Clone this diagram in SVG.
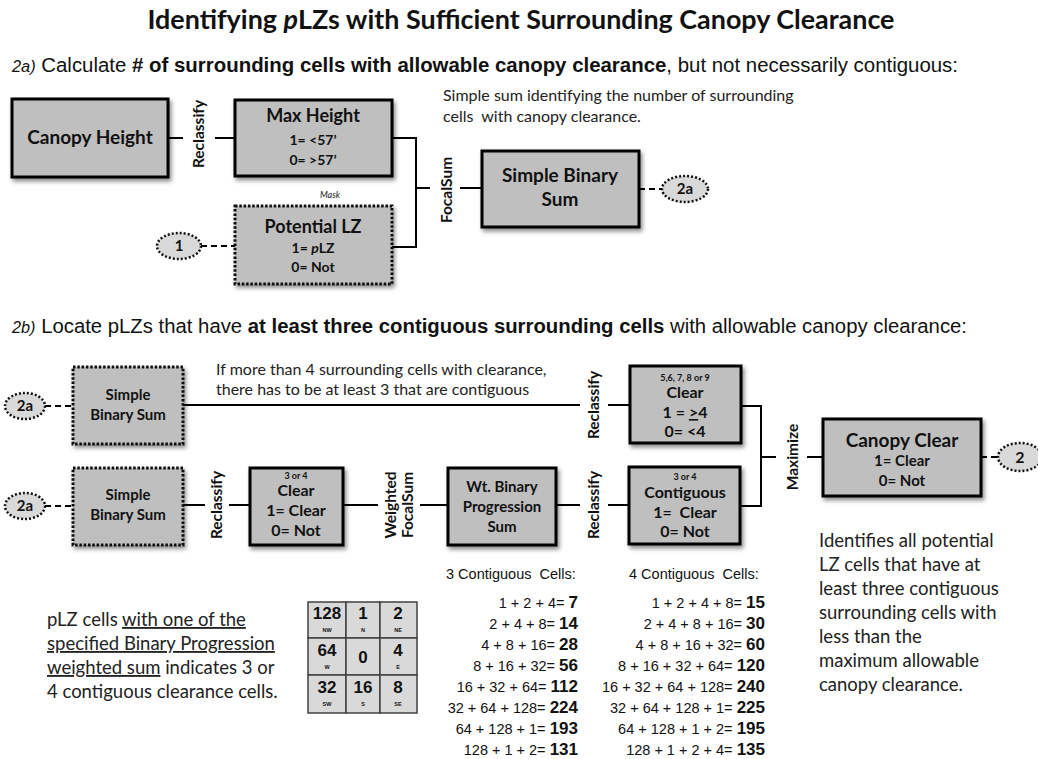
<svg xmlns="http://www.w3.org/2000/svg" width="1038" height="759" viewBox="0 0 1038 759">
<defs>
<filter id="sh" x="-10%" y="-10%" width="130%" height="140%">
<feDropShadow dx="2" dy="3" stdDeviation="2" flood-color="#000" flood-opacity="0.45"/>
</filter>
<style>
.box{fill:#bfbfbf;stroke:#000;stroke-width:3;filter:url(#sh)}
.dbox{fill:#bfbfbf;stroke:#111;stroke-width:3;stroke-dasharray:2.5 1.8;filter:url(#sh)}
.ell{fill:#d9d9d9;stroke:#111;stroke-width:2.5;stroke-dasharray:2 2}
.ln{stroke:#000;stroke-width:2;fill:none}
.dl{stroke:#000;stroke-width:2;stroke-dasharray:6 4;fill:none}
.t{font-family:Lato,"Liberation Sans",sans-serif;font-weight:bold;fill:#111;text-anchor:middle}
.lab{font-family:Lato,"Liberation Sans",sans-serif;font-weight:bold;fill:#111;text-anchor:middle;font-size:15.5px}
.note{font-family:Lato,"Liberation Sans",sans-serif;fill:#222}
.ar{font-family:"Liberation Sans",Arial,sans-serif;fill:#111}
.cell{fill:#d9d9d9;stroke:#404040;stroke-width:1.5}
.gn{font-family:"Liberation Sans",Arial,sans-serif;font-weight:bold;fill:#111;text-anchor:middle;font-size:17px}
.gs{font-family:"Liberation Sans",Arial,sans-serif;font-weight:bold;fill:#111;text-anchor:middle;font-size:5.5px}
.sum{font-family:"Liberation Sans",Arial,sans-serif;fill:#111;text-anchor:end;font-size:14.5px}
.sum tspan{font-weight:bold;font-size:17px}
</style>
</defs>
<rect width="1038" height="759" fill="#fff"/>

<text class="t" x="521" y="29" font-size="26" textLength="747" lengthAdjust="spacingAndGlyphs">Identifying <tspan font-style="italic">p</tspan>LZs with Sufficient Surrounding Canopy Clearance</text>
<text class="ar" x="12" y="72" font-size="20" textLength="946" lengthAdjust="spacingAndGlyphs"><tspan font-style="italic" font-size="16">2a)</tspan> Calculate <tspan font-weight="bold"># of surrounding cells with allowable canopy clearance</tspan>, but not necessarily contiguous:</text>
<text class="ar" x="12" y="333" font-size="20" textLength="955" lengthAdjust="spacingAndGlyphs"><tspan font-style="italic" font-size="16">2b)</tspan> Locate pLZs that have <tspan font-weight="bold">at least three contiguous surrounding cells</tspan> with allowable canopy clearance:</text>

<g id="connectors">
<line class="ln" x1="168" y1="138" x2="183" y2="138"/>
<line class="ln" x1="215" y1="138" x2="235" y2="138"/>
<path class="ln" d="M392,138 H416 V247 H392"/>
<line class="ln" x1="416" y1="188" x2="430" y2="188"/>
<line class="ln" x1="460" y1="188" x2="482" y2="188"/>
<line class="dl" x1="639" y1="189" x2="662" y2="189"/>
<line class="dl" x1="201" y1="246" x2="235" y2="246"/>
<line class="dl" x1="45" y1="406" x2="73" y2="406"/>
<line class="ln" x1="183" y1="405" x2="580" y2="405"/>
<line class="ln" x1="608" y1="405" x2="630" y2="405"/>
<line class="dl" x1="45" y1="506" x2="73" y2="506"/>
<line class="ln" x1="183" y1="505" x2="205" y2="505"/>
<line class="ln" x1="229" y1="505" x2="250" y2="505"/>
<line class="ln" x1="343" y1="505" x2="378" y2="505"/>
<line class="ln" x1="420" y1="505" x2="448" y2="505"/>
<line class="ln" x1="556" y1="505" x2="580" y2="505"/>
<line class="ln" x1="608" y1="505" x2="629" y2="505"/>
<path class="ln" d="M741,406 H761 V506 H740"/>
<line class="ln" x1="761" y1="457" x2="776" y2="457"/>
<line class="ln" x1="807" y1="457" x2="823" y2="457"/>
<line class="dl" x1="981" y1="457" x2="998" y2="457"/>
<text class="lab" transform="translate(204,134) rotate(-90)">Reclassify</text>
<text class="lab" transform="translate(452,190) rotate(-90)">FocalSum</text>
<text class="lab" transform="translate(599,405) rotate(-90)">Reclassify</text>
<text class="lab" transform="translate(222,505) rotate(-90)">Reclassify</text>
<text class="lab" transform="translate(396,505) rotate(-90)">Weighted</text>
<text class="lab" transform="translate(413,505) rotate(-90)">FocalSum</text>
<text class="lab" transform="translate(599,505) rotate(-90)">Reclassify</text>
<text class="lab" transform="translate(798,457) rotate(-90)" font-size="16">Maximize</text>
<text class="note" x="330" y="198" font-size="9" font-style="italic" text-anchor="middle">Mask</text>
</g>

<g id="canopy-height">
<rect class="box" x="12" y="99" width="156" height="78"/>
<text class="t" x="90" y="144" font-size="19">Canopy Height</text>
</g>
<g id="max-height">
<rect class="box" x="235" y="100" width="157" height="76"/>
<text class="t" x="313" y="122" font-size="18">Max Height</text>
<text class="t" x="313" y="145" font-size="14">1= &lt;57’</text>
<text class="t" x="313" y="165" font-size="14">0= &gt;57’</text>
</g>
<g id="potential-lz">
<rect class="dbox" x="235" y="206" width="157" height="78"/>
<text class="t" x="313" y="233" font-size="18">Potential LZ</text>
<text class="t" x="313" y="253" font-size="14">1= <tspan font-style="italic">p</tspan>LZ</text>
<text class="t" x="313" y="272" font-size="14">0= Not</text>
</g>
<g id="ref-1">
<ellipse class="ell" cx="179" cy="246" rx="22" ry="13"/>
<text class="t" x="179" y="251" font-size="15">1</text>
</g>
<g id="simple-binary-sum">
<rect class="box" x="482" y="151" width="157" height="76"/>
<text class="t" x="560" y="182" font-size="19">Simple Binary</text>
<text class="t" x="560" y="206" font-size="19">Sum</text>
</g>
<g id="ref-2a-out">
<ellipse class="ell" cx="685" cy="189" rx="23" ry="13"/>
<text class="t" x="685" y="194" font-size="15">2a</text>
</g>
<g id="note-2a">
<text class="note" x="443" y="101" font-size="16">Simple sum identifying the number of surrounding</text>
<text class="note" x="443" y="122" font-size="16" xml:space="preserve">cells  with canopy clearance.</text>
</g>

<g id="ref-2a-r1">
<ellipse class="ell" cx="25" cy="406" rx="20" ry="13"/>
<text class="t" x="25" y="411" font-size="15">2a</text>
</g>
<g id="sbs-r1">
<rect class="dbox" x="73" y="367" width="110" height="77"/>
<text class="t" x="128" y="400" font-size="15">Simple</text>
<text class="t" x="128" y="420" font-size="15">Binary Sum</text>
</g>
<g id="note-r1">
<text class="note" x="216" y="375" font-size="16">If more than 4 surrounding cells with clearance,</text>
<text class="note" x="216" y="395" font-size="16">there has to be at least 3 that are contiguous</text>
</g>
<g id="clear-ge4">
<rect class="box" x="630" y="366" width="111" height="77"/>
<text class="t" x="685" y="381" font-size="9">5,6, 7, 8 or 9</text>
<text class="t" x="685" y="398" font-size="16">Clear</text>
<text class="t" x="685" y="418" font-size="16">1 = <tspan text-decoration="underline">&gt;</tspan>4</text>
<text class="t" x="685" y="437" font-size="16">0= &lt;4</text>
</g>

<g id="ref-2a-r2">
<ellipse class="ell" cx="25" cy="506" rx="20" ry="13"/>
<text class="t" x="25" y="511" font-size="15">2a</text>
</g>
<g id="sbs-r2">
<rect class="dbox" x="73" y="468" width="110" height="77"/>
<text class="t" x="128" y="500" font-size="15">Simple</text>
<text class="t" x="128" y="520" font-size="15">Binary Sum</text>
</g>
<g id="clear-3or4">
<rect class="box" x="250" y="468" width="93" height="77"/>
<text class="t" x="296" y="479" font-size="9">3 or 4</text>
<text class="t" x="296" y="496" font-size="16">Clear</text>
<text class="t" x="296" y="516" font-size="16">1= Clear</text>
<text class="t" x="296" y="536" font-size="16">0= Not</text>
</g>
<g id="wt-binary">
<rect class="box" x="448" y="468" width="108" height="77"/>
<text class="t" x="502" y="492" font-size="15">Wt. Binary</text>
<text class="t" x="502" y="512" font-size="15">Progression</text>
<text class="t" x="502" y="532" font-size="15">Sum</text>
</g>
<g id="contiguous">
<rect class="box" x="629" y="467" width="111" height="77"/>
<text class="t" x="685" y="480" font-size="9">3 or 4</text>
<text class="t" x="685" y="498" font-size="16">Contiguous</text>
<text class="t" x="685" y="518" font-size="16" xml:space="preserve">1=  Clear</text>
<text class="t" x="685" y="537" font-size="16">0= Not</text>
</g>
<g id="canopy-clear">
<rect class="box" x="823" y="419" width="158" height="77"/>
<text class="t" x="902" y="447" font-size="19">Canopy Clear</text>
<text class="t" x="902" y="466" font-size="15">1= Clear</text>
<text class="t" x="902" y="486" font-size="15">0= Not</text>
</g>
<g id="ref-2">
<ellipse class="ell" cx="1020" cy="457" rx="22" ry="14"/>
<text class="t" x="1020" y="463" font-size="16">2</text>
</g>

<g id="note-right" class="note" font-size="18.5">
<text x="819" y="547">Identifies all potential</text>
<text x="819" y="571">LZ cells that have at</text>
<text x="819" y="595">least three contiguous</text>
<text x="819" y="619">surrounding cells with</text>
<text x="819" y="643">less than the</text>
<text x="819" y="667">maximum allowable</text>
<text x="819" y="691">canopy clearance.</text>
</g>

<g id="note-left" class="note" font-size="18.5">
<text x="47" y="626">pLZ cells <tspan text-decoration="underline">with one of the</tspan></text>
<text x="47" y="650" text-decoration="underline">specified Binary Progression</text>
<text x="47" y="674"><tspan text-decoration="underline">weighted sum</tspan> indicates 3 or</text>
<text x="47" y="698">4 contiguous clearance cells.</text>
</g>

<g id="grid">
<rect class="cell" x="308" y="602" width="38" height="36"/>
<rect class="cell" x="346" y="602" width="34" height="36"/>
<rect class="cell" x="380" y="602" width="37" height="36"/>
<rect class="cell" x="308" y="638" width="38" height="37"/>
<rect class="cell" x="346" y="638" width="34" height="37"/>
<rect class="cell" x="380" y="638" width="37" height="37"/>
<rect class="cell" x="308" y="675" width="38" height="38"/>
<rect class="cell" x="346" y="675" width="34" height="38"/>
<rect class="cell" x="380" y="675" width="37" height="38"/>
<text class="gn" x="327" y="619">128</text><text class="gs" x="327" y="632">NW</text>
<text class="gn" x="363" y="619">1</text><text class="gs" x="363" y="632">N</text>
<text class="gn" x="398" y="619">2</text><text class="gs" x="398" y="632">NE</text>
<text class="gn" x="327" y="656">64</text><text class="gs" x="327" y="669">W</text>
<text class="gn" x="363" y="663">0</text>
<text class="gn" x="398" y="656">4</text><text class="gs" x="398" y="669">E</text>
<text class="gn" x="327" y="693">32</text><text class="gs" x="327" y="706">SW</text>
<text class="gn" x="363" y="693">16</text><text class="gs" x="363" y="706">S</text>
<text class="gn" x="398" y="693">8</text><text class="gs" x="398" y="706">SE</text>
</g>

<g id="sums-3">
<text class="ar" x="446" y="579" font-size="14.5" xml:space="preserve">3 Contiguous  Cells:</text>
<text class="sum" x="578" y="608">1 + 2 + 4= <tspan>7</tspan></text>
<text class="sum" x="578" y="629">2 + 4 + 8= <tspan>14</tspan></text>
<text class="sum" x="578" y="650">4 + 8 + 16= <tspan>28</tspan></text>
<text class="sum" x="578" y="671">8 + 16 + 32= <tspan>56</tspan></text>
<text class="sum" x="578" y="692">16 + 32 + 64= <tspan>112</tspan></text>
<text class="sum" x="578" y="713">32 + 64 + 128= <tspan>224</tspan></text>
<text class="sum" x="578" y="734">64 + 128 + 1= <tspan>193</tspan></text>
<text class="sum" x="578" y="755">128 + 1 + 2= <tspan>131</tspan></text>
</g>
<g id="sums-4">
<text class="ar" x="629" y="579" font-size="14.5" xml:space="preserve">4 Contiguous  Cells:</text>
<text class="sum" x="765" y="608">1 + 2 + 4 + 8= <tspan>15</tspan></text>
<text class="sum" x="765" y="629">2 + 4 + 8 + 16= <tspan>30</tspan></text>
<text class="sum" x="765" y="650">4 + 8 + 16 + 32= <tspan>60</tspan></text>
<text class="sum" x="765" y="671">8 + 16 + 32 + 64= <tspan>120</tspan></text>
<text class="sum" x="765" y="692">16 + 32 + 64 + 128= <tspan>240</tspan></text>
<text class="sum" x="765" y="713">32 + 64 + 128 + 1= <tspan>225</tspan></text>
<text class="sum" x="765" y="734">64 + 128 + 1 + 2= <tspan>195</tspan></text>
<text class="sum" x="765" y="755">128 + 1 + 2 + 4= <tspan>135</tspan></text>
</g>
</svg>
